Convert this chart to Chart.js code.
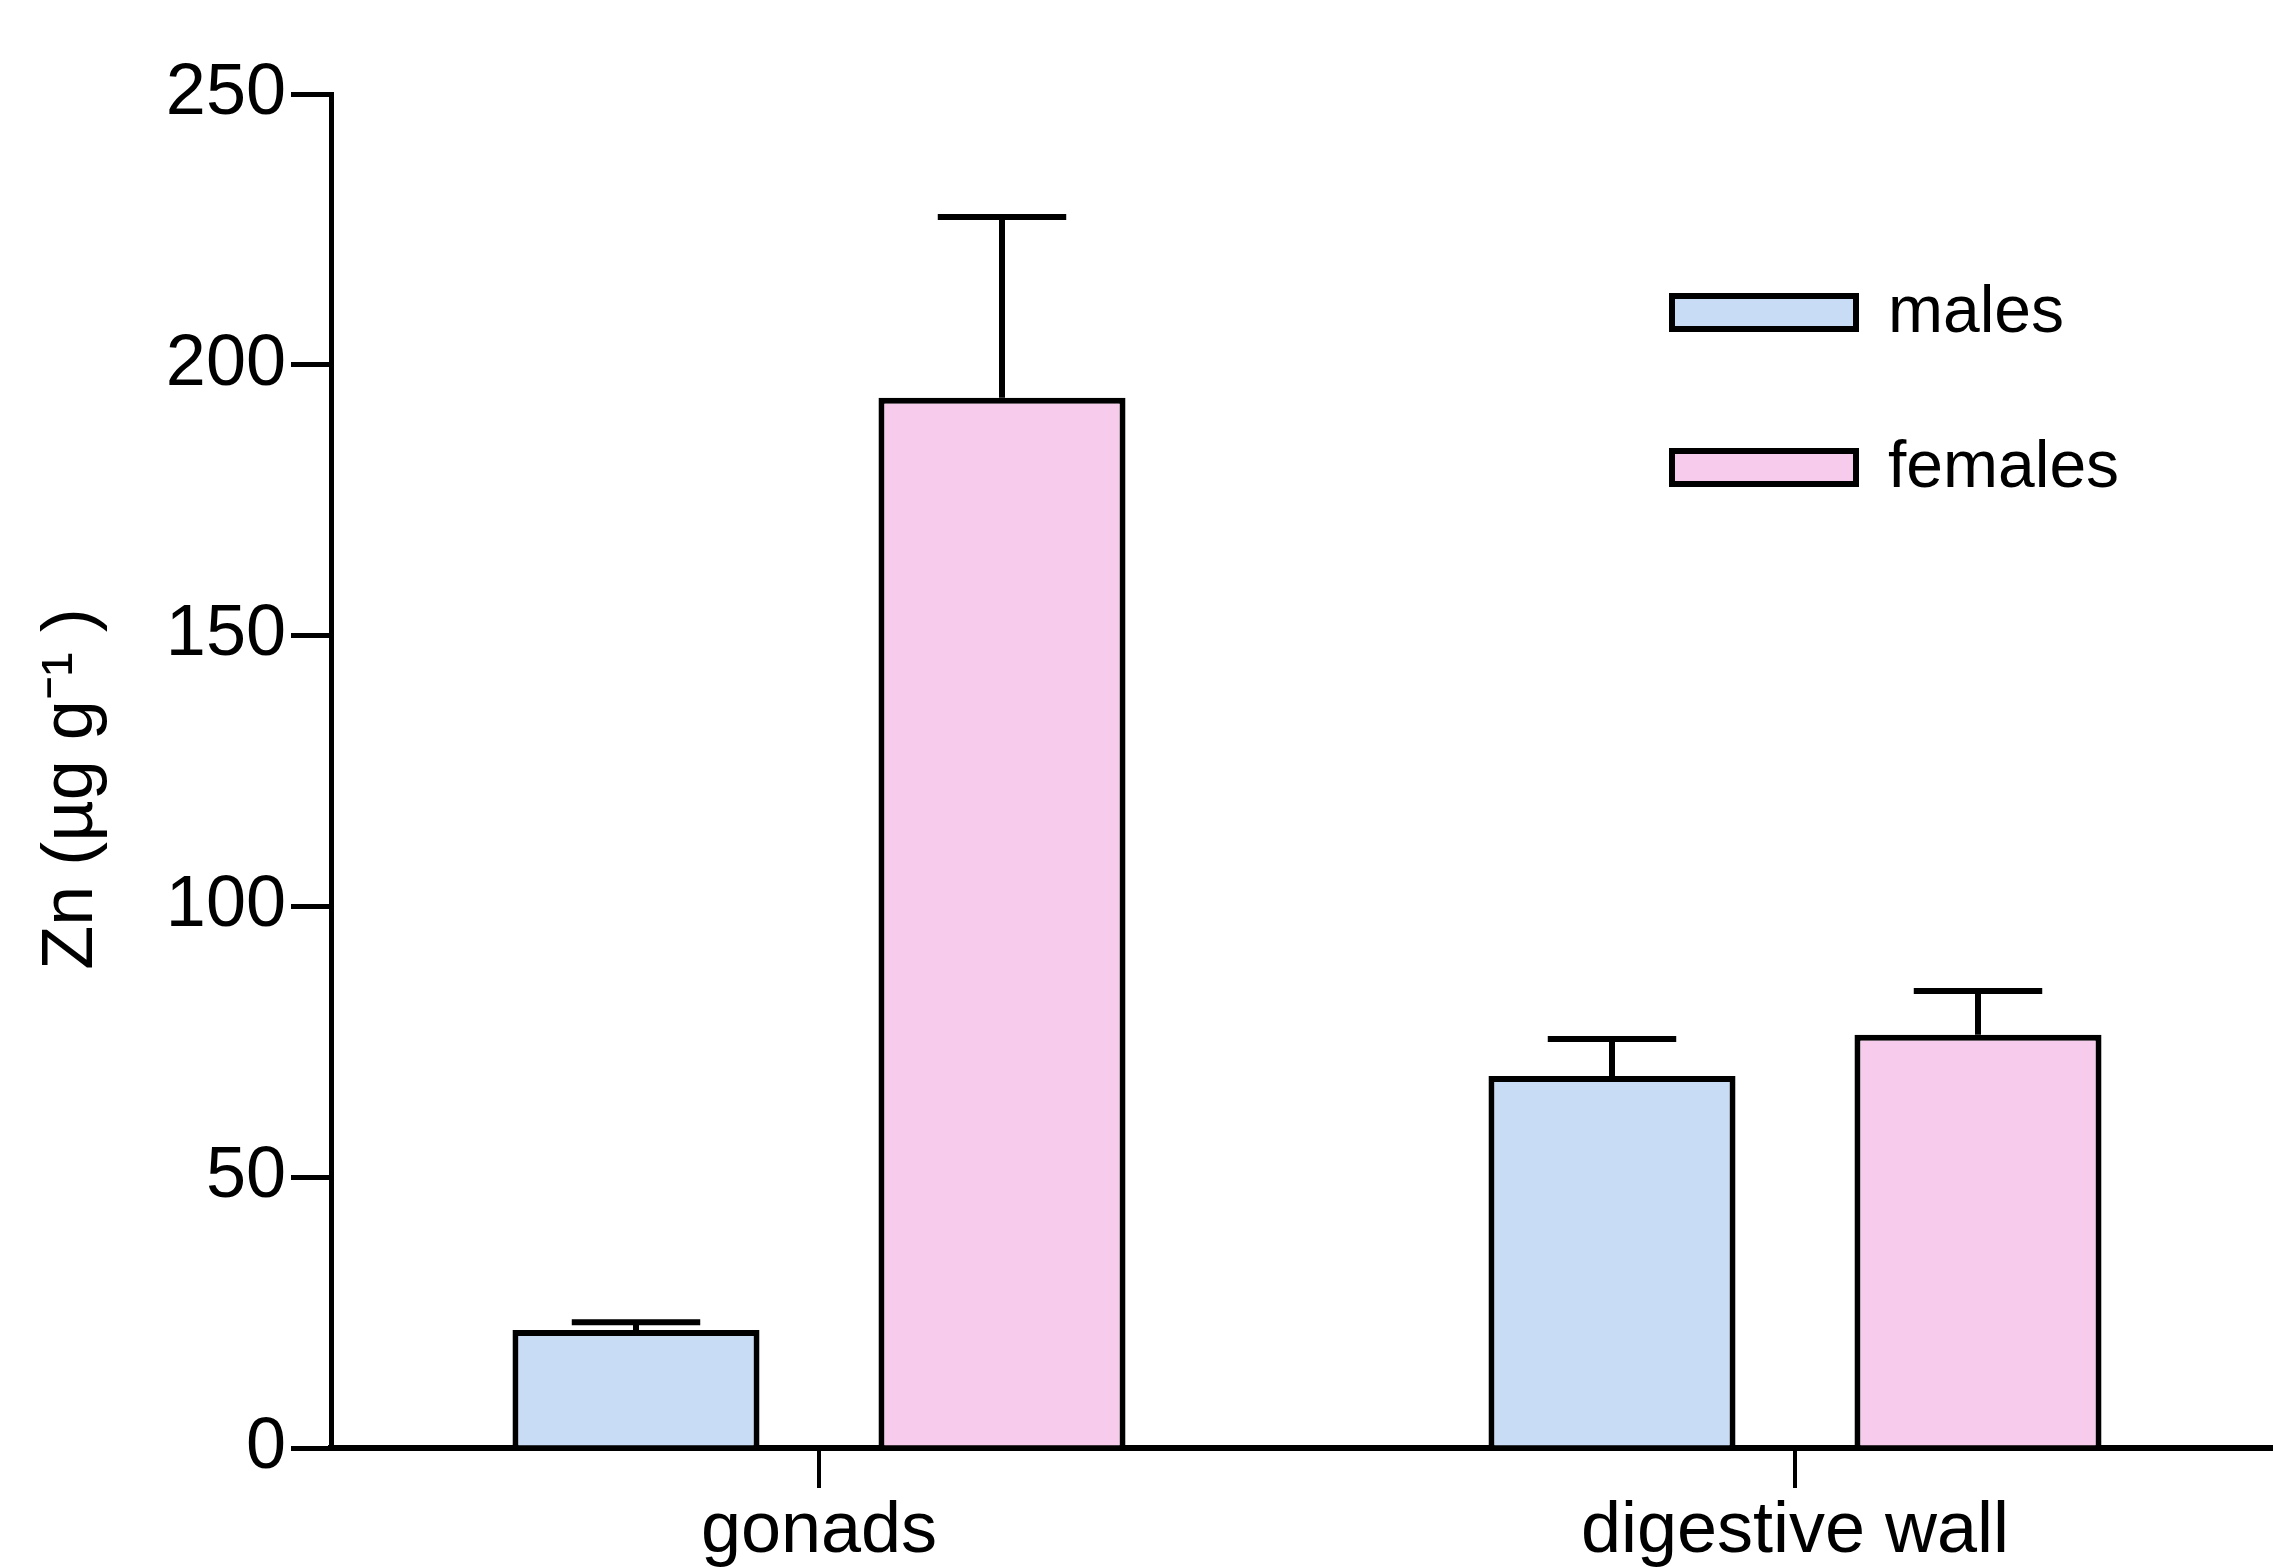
<!DOCTYPE html>
<html>
<head>
<meta charset="utf-8">
<title>Zn</title>
<script src="https://cdn.jsdelivr.net/npm/chart.js@4.4.1/dist/chart.umd.min.js"></script>
<style>
  html, body { margin: 0; padding: 0; background: #fff; overflow: hidden; }
  canvas { display: block; }
</style>
</head>
<body>
<canvas id="grafico" width="2283" height="1567"></canvas>
<script>
// Zn por tecido e sexo (média + erro)
const categorias = ["gonads", "digestive wall"];
const machos = [21.8, 68.7];
const machosErro = [1.4, 6.8];
const femeas = [193.9, 76.3];
const femeasErro = [33.4, 8.1];
const ticksY = [0, 50, 100, 150, 200, 250];

const FONTE = "'Liberation Sans', Arial, sans-serif";

// só a barra de cima do erro, como no original
const barrasErro = {
  id: "barrasErro",
  afterDatasetsDraw(chart) {
    const ctx = chart.ctx;
    const y = chart.scales.y;
    ctx.save();
    ctx.strokeStyle = "#000";
    ctx.lineWidth = 6;
    chart.data.datasets.forEach((ds, i) => {
      chart.getDatasetMeta(i).data.forEach((bar, j) => {
        const topo = y.getPixelForValue(ds.data[j] + ds.erro[j]);
        const meia = bar.width * 0.26;
        ctx.beginPath();
        ctx.moveTo(bar.x, bar.y);
        ctx.lineTo(bar.x, topo);
        ctx.moveTo(bar.x - meia, topo);
        ctx.lineTo(bar.x + meia, topo);
        ctx.stroke();
      });
    });
    ctx.restore();
  }
};

// legenda dentro da área do gráfico
const legenda = {
  id: "legenda",
  afterDraw(chart) {
    const ctx = chart.ctx;
    ctx.save();
    ctx.font = "66px " + FONTE;
    ctx.textBaseline = "middle";
    chart.data.datasets.forEach((ds, i) => {
      const topo = 293 + i * 155;
      ctx.fillStyle = ds.backgroundColor;
      ctx.fillRect(1669, topo, 190, 39);
      ctx.lineWidth = 6;
      ctx.strokeStyle = "#000";
      ctx.strokeRect(1672, topo + 3, 184, 33);
      ctx.fillStyle = "#000";
      ctx.fillText(ds.label, 1888, topo + 21);
    });
    ctx.restore();
  }
};

new Chart(document.getElementById("grafico"), {
  type: "bar",
  data: {
    labels: categorias,
    datasets: [
      { label: "males", data: machos, erro: machosErro, backgroundColor: "#c8dcf5", borderColor: "#000", borderWidth: 6 },
      { label: "females", data: femeas, erro: femeasErro, backgroundColor: "#f7cbec", borderColor: "#000", borderWidth: 6 }
    ]
  },
  options: {
    responsive: false,
    animation: false,
    events: [],
    datasets: { bar: { categoryPercentage: 0.75, barPercentage: 0.675 } },
    layout: { padding: { top: 94, left: 0, right: 0, bottom: 0 } },
    plugins: { legend: { display: false }, tooltip: { enabled: false } },
    scales: {
      x: {
        grid: { offset: false, drawOnChartArea: false, tickLength: 40, color: "#000", lineWidth: 4 },
        border: { color: "#000", width: 6 },
        ticks: { color: "#000", padding: 1, font: { family: FONTE, size: 72 } },
        afterFit: s => { s.height = 119; }
      },
      y: {
        min: 0,
        max: 250,
        afterBuildTicks: s => { s.ticks = ticksY.map(v => ({ value: v })); },
        grid: { drawOnChartArea: false, tickLength: 40, color: "#000", lineWidth: 5 },
        border: { color: "#000", width: 5 },
        ticks: { color: "#000", padding: 5, font: { family: FONTE, size: 72 } },
        title: {
          display: true,
          text: "Zn (µg g⁻¹ )\u2002",
          color: "#000",
          font: { family: FONTE, size: 72 },
          padding: { top: 29, bottom: 0 }
        },
        afterFit: s => { s.width = 331; }
      }
    }
  },
  plugins: [barrasErro, legenda]
});
</script>
</body>
</html>
